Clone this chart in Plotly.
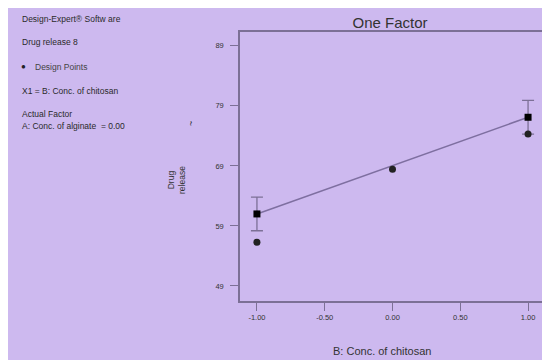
import plotly.graph_objects as go

# Data
pred_x = [-1.0, 1.0]
pred_y = [61.0, 77.1]
bar_x = [-1.0, 1.0]
bar_y = [61.0, 77.1]
bar_err = [2.8, 2.8]
design_x = [-1.0, 0.0, 1.0]
design_y = [56.3, 68.45, 74.3]
x_ticks = [-1.0, -0.5, 0.0, 0.5, 1.0]
x_tick_labels = ["-1.00", "-0.50", "0.00", "0.50", "1.00"]
y_ticks = [49, 59, 69, 79, 89]
y_tick_labels = ["49", "59", "69", "79", "89"]

BG = "#CDB9EF"
AX = "#7C7096"
FONT = "Arial, Liberation Sans, sans-serif"

# figure-pixel geometry (page has an 8px body margin)
L, R, T, B = 232, 537, 24, 293
W, H = 550, 360

fig = go.Figure()
fig.add_trace(go.Scatter(x=pred_x, y=pred_y, mode="lines",
                         line=dict(color="#7E6FA0", width=1.5), showlegend=False))
fig.add_trace(go.Scatter(x=bar_x, y=bar_y, mode="markers",
                         marker=dict(symbol="square", size=7, color="black"),
                         error_y=dict(type="data", array=bar_err, visible=True,
                                      color=AX, thickness=1.3, width=6),
                         showlegend=False))
fig.add_trace(go.Scatter(x=design_x, y=design_y, mode="markers",
                         marker=dict(symbol="circle", size=7, color="#222222"),
                         showlegend=False))


def px_x(x):
    return (x - L) / (R - L)


def px_y(y):
    return (B - y) / (B - T)


fig.update_layout(
    width=W, height=H,
    margin=dict(l=L, r=W - R, t=T, b=H - B),
    paper_bgcolor=BG, plot_bgcolor=BG,
    font=dict(family=FONT, color="#222222"),
    title=dict(text="One Factor", x=px_x(382), xref="paper", xanchor="center",
               y=1 - 15 / H, yanchor="middle", font=dict(size=15, color="#333333")),
    xaxis=dict(range=[-1.125, 1.125], tickvals=x_ticks, ticktext=x_tick_labels,
               showgrid=False, zeroline=False, showline=True, mirror=True,
               linecolor=AX, linewidth=1.5, ticks="outside", ticklen=8,
               tickcolor=AX, tickwidth=1.2, tickfont=dict(size=7.5, color="#333333")),
    yaxis=dict(range=[46.5, 91.3], tickvals=y_ticks, ticktext=y_tick_labels,
               showgrid=False, zeroline=False, showline=True, mirror=True,
               linecolor=AX, linewidth=1.5, ticks="outside", ticklen=8,
               ticklabelstandoff=5,
               tickcolor=AX, tickwidth=1.2, tickfont=dict(size=7.5, color="#333333")),
)

left = [
    ("Design-Expert® Softw are", 11),
    ("Drug release 8", 34),
    ("X1 = B: Conc. of chitosan", 83),
    ("Actual Factor", 106),
    ("A: Conc. of alginate  = 0.00", 118),
]
for txt, y in left:
    fig.add_annotation(text=txt, xref="paper", yref="paper", x=px_x(12), y=px_y(y),
                       xanchor="left", yanchor="middle", showarrow=False,
                       font=dict(size=8.5, color="#2a2a2a"))
fig.add_annotation(text="●", xref="paper", yref="paper", x=px_x(11), y=px_y(59),
                   xanchor="left", yanchor="middle", showarrow=False,
                   font=dict(size=8, color="#222222"))
fig.add_annotation(text="Design Points", xref="paper", yref="paper", x=px_x(25), y=px_y(59),
                   xanchor="left", yanchor="middle", showarrow=False,
                   font=dict(size=8.5, color="#444444"))

# Axis titles
fig.add_annotation(text="B: Conc. of chitosan", xref="paper", yref="paper",
                   x=px_x(374), y=px_y(343), xanchor="center", yanchor="middle",
                   showarrow=False, font=dict(size=11, color="#333333"))
fig.add_annotation(text="Drug<br>release", xref="paper", yref="paper", x=px_x(168), y=px_y(172),
                   xanchor="center", yanchor="middle", showarrow=False, textangle=-90,
                   font=dict(size=8.5, color="#333333"))
fig.add_annotation(text="~", xref="paper", yref="paper", x=px_x(183), y=px_y(116),
                   xanchor="center", yanchor="middle", showarrow=False, textangle=-90,
                   font=dict(size=9, color="#333333"))

fig.write_html("out.html")
